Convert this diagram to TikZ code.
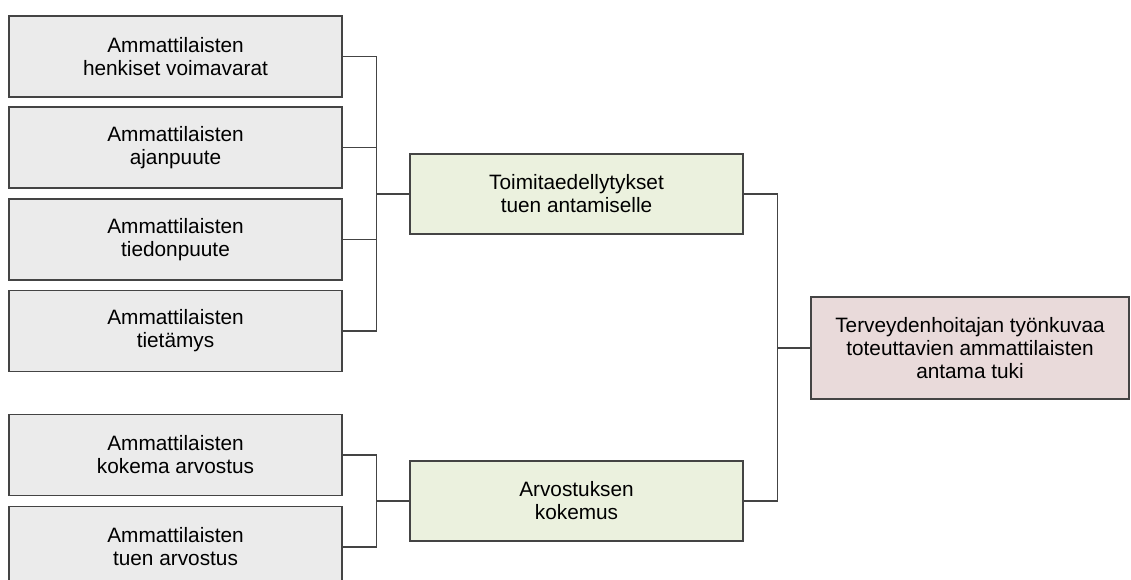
\documentclass[tikz,border=0pt]{standalone}
\usepackage{fontspec}
\setmainfont{Liberation Sans}
\usepackage{tikz}
\usetikzlibrary{calc}
\definecolor{boxgray}{HTML}{EBEBEB}
\definecolor{boxgreen}{HTML}{EBF1DE}
\definecolor{boxpink}{HTML}{E9DADA}
\definecolor{linegray}{HTML}{444444}
\tikzset{tekija/.style={
    draw=linegray, fill=boxgray, line width=1.2pt,
    minimum width=333pt, minimum height=81pt,
    align=center, inner sep=0pt,
    font=\fontsize{20.8}{23}\selectfont},
  luokka/.style={tekija, fill=boxgreen, minimum height=80pt},
  tulos/.style={tekija, fill=boxpink, minimum width=318pt, minimum height=102pt},
  liitos/.style={draw=linegray, line width=1.2pt}}

\begin{document}
\begin{tikzpicture}[x=1pt,y=-1pt]
	\useasboundingbox (0,0) rectangle (1131,579);
\clip (0,0) rectangle (1131,579);
\fill[white] (0,0) rectangle (1131,579);

\coordinate (A1) at (175.5,56.5);
\coordinate (A2) at (175.5,147.5);
\coordinate (A3) at (175.5,239.5);
\coordinate (A4) at (175.5,331);
\coordinate (A5) at (175.5,455);
\coordinate (A6) at (175.5,547);
\coordinate (G1) at (576.5,194);
\coordinate (G2) at (576.5,501);
\coordinate (T) at (970,348);

\node[tekija] (a1) at (A1) {Ammattilaisten\\henkiset voimavarat};
\node[tekija] (a2) at (A2) {Ammattilaisten\\ajanpuute};
\node[tekija] (a3) at (A3) {Ammattilaisten\\tiedonpuute};
\node[tekija] (a4) at (A4) {Ammattilaisten\\tietämys};
\node[tekija] (a5) at (A5) {Ammattilaisten\\kokema arvostus};
\node[tekija] (a6) at (A6) {Ammattilaisten\\tuen arvostus};

\node[luokka] (g1) at (G1) {Toimitaedellytykset\\tuen antamiselle};
\node[luokka] (g2) at (G2) {Arvostuksen\\kokemus};

\node[tulos] (t) at (T) {Terveydenhoitajan työnkuvaa\\toteuttavien ammattilaisten\\antama tuki};

	\path[liitos] (a1.east) -- ++(34,0) |- (g1.west);
	\path[liitos] (a2.east) -- ++(34,0) |- (g1.west);
	\path[liitos] (a3.east) -- ++(34,0) |- (g1.west);
	\path[liitos] (a4.east) -- ++(34,0) |- (g1.west);
	\path[liitos] (a5.east) -- ++(34,0) |- (g2.west);
	\path[liitos] (a6.east) -- ++(34,0) |- (g2.west);
	\path[liitos] (g1.east) -- ++(34,0) |- (t.west);
	\path[liitos] (g2.east) -- ++(34,0) |- (t.west);
  
\end{tikzpicture}
\end{document}
